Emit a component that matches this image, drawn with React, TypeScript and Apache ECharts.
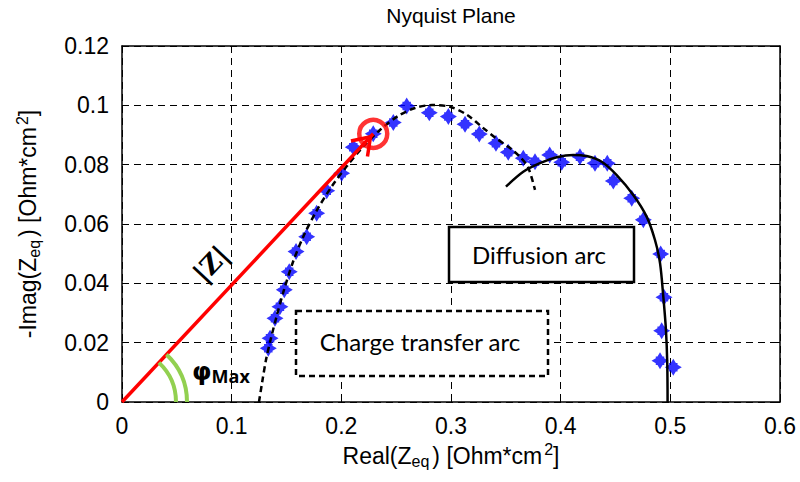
import React, { useEffect, useRef } from 'react';
import * as echarts from 'echarts';

// Measured impedance points (Real, -Imag) in Ohm*cm^2
const measuredRe = [0.1334, 0.135, 0.1395, 0.144, 0.148, 0.1525, 0.1587, 0.1684, 0.1775, 0.1867, 0.2003, 0.2109, 0.2291, 0.2474, 0.2596, 0.2802, 0.2976, 0.3128, 0.3258, 0.341, 0.3522, 0.3659, 0.3766, 0.39, 0.401, 0.4176, 0.4313, 0.4425, 0.448, 0.4648, 0.4754, 0.4912, 0.4942, 0.4921, 0.4906, 0.5027];
const measuredIm = [0.0181, 0.0215, 0.0282, 0.0321, 0.0378, 0.0439, 0.0507, 0.0557, 0.0636, 0.0712, 0.0771, 0.0859, 0.0904, 0.0942, 0.0998, 0.0975, 0.0962, 0.0936, 0.0903, 0.0872, 0.0842, 0.0822, 0.081, 0.0833, 0.0808, 0.0827, 0.0805, 0.0805, 0.0745, 0.0687, 0.0614, 0.0499, 0.0353, 0.024, 0.0139, 0.0117];

// Charge transfer arc (dashed fit)
const chargeArcRe = [0.1249, 0.1277, 0.1313, 0.1359, 0.1413, 0.1477, 0.1559, 0.166, 0.1778, 0.1915, 0.2052, 0.2188, 0.2352, 0.2517, 0.2672, 0.2827, 0.2991, 0.3146, 0.3292, 0.3419, 0.3538, 0.3629, 0.3702, 0.3766];
const chargeArcIm = [0, 0.0064, 0.0142, 0.0216, 0.0293, 0.0378, 0.0472, 0.0563, 0.0647, 0.0728, 0.0796, 0.0856, 0.0917, 0.0964, 0.0991, 0.1001, 0.0995, 0.0968, 0.0924, 0.0887, 0.0856, 0.0826, 0.0792, 0.0715];

// Diffusion arc (solid fit)
const diffArcRe = [0.3501, 0.3659, 0.3811, 0.3964, 0.4115, 0.4237, 0.4374, 0.4511, 0.4662, 0.4784, 0.486, 0.4906, 0.4936, 0.496, 0.4972, 0.4975];
const diffArcIm = [0.0726, 0.0776, 0.0805, 0.0825, 0.0833, 0.0829, 0.081, 0.0765, 0.0698, 0.0625, 0.0546, 0.0468, 0.0355, 0.0243, 0.013, 0];

// |Z| vector at the phase maximum
const zVectorRe = [0, 0.2291];
const zVectorIm = [0, 0.0904];

const xMin = 0, xMax = 0.6, xStep = 0.1;
const yMin = 0, yMax = 0.12, yStep = 0.02;

const zip = (a: number[], b: number[]) => a.map((v, i) => [v, b[i]]);

const FONT = '"Liberation Sans", Arial, sans-serif';
const BOX_FONT = 'Lato, "Open Sans", sans-serif';
const MARKER = 'path://M5,0 L6.5,2.5 L7.5,2.5 L7.5,3.5 L10,5 L7.5,6.5 L7.5,7.5 L6.5,7.5 L5,10 L3.5,7.5 L2.5,7.5 L2.5,6.5 L0,5 L2.5,3.5 L2.5,2.5 L3.5,2.5 Z';

export default function App() {
  const ref = useRef<HTMLDivElement>(null);
  useEffect(() => {
    const chart = echarts.init(ref.current!, null, { renderer: 'svg' });
    const fmt = (v: number) => String(+v.toFixed(2));
    const richName = {
      sub: { fontSize: 16, fontFamily: FONT, color: '#000', padding: [12, 3, 0, 0] },
      sup: { fontSize: 16, fontFamily: FONT, color: '#000', padding: [0, 0, 12, 2] },
    };
    const axisLineStyle = { color: '#000', width: 1.5 };
    chart.setOption({
      animation: false,
      backgroundColor: '#fff',
      title: {
        text: 'Nyquist Plane', left: 451, top: 5, textAlign: 'center', padding: 0,
        textStyle: { fontFamily: FONT, fontSize: 21, fontWeight: 'normal', color: '#000' },
      },
      grid: { left: 122, right: 20, top: 46, bottom: 80 },
      xAxis: [
        {
          type: 'value', min: xMin, max: xMax, interval: xStep, position: 'bottom',
          axisLine: { show: true, onZero: false, lineStyle: axisLineStyle },
          axisTick: { show: true, inside: true, length: 5, lineStyle: { color: '#000' } },
          axisLabel: { fontFamily: FONT, fontSize: 23, color: '#000', margin: 12, formatter: fmt },
          splitLine: { show: true, lineStyle: { color: '#000', type: [7, 5], width: 1 } },
          name: 'Real(Z{sub|eq}) [Ohm*cm{sup|2}]', nameLocation: 'middle', nameGap: 38,
          nameTextStyle: { fontFamily: FONT, fontSize: 23, color: '#000', rich: richName },
        },
        {
          type: 'value', min: xMin, max: xMax, interval: xStep, position: 'top',
          axisLine: { show: true, onZero: false, lineStyle: axisLineStyle },
          axisTick: { show: true, inside: true, length: 5, lineStyle: { color: '#000' } },
          axisLabel: { show: false }, splitLine: { show: false },
        },
      ],
      yAxis: [
        {
          type: 'value', min: yMin, max: yMax, interval: yStep, position: 'left',
          axisLine: { show: true, onZero: false, lineStyle: axisLineStyle },
          axisTick: { show: true, inside: true, length: 5, lineStyle: { color: '#000' } },
          axisLabel: { fontFamily: FONT, fontSize: 23, color: '#000', margin: 13, formatter: fmt },
          splitLine: { show: true, lineStyle: { color: '#000', type: [7, 5], width: 1 } },
          name: '-Imag(Z{sub|eq}) [Ohm*cm{sup|2}]', nameLocation: 'middle', nameGap: 80,
          nameTextStyle: { fontFamily: FONT, fontSize: 23, color: '#000', rich: richName },
        },
        {
          type: 'value', min: yMin, max: yMax, interval: yStep, position: 'right',
          axisLine: { show: true, onZero: false, lineStyle: axisLineStyle },
          axisTick: { show: true, inside: true, length: 5, lineStyle: { color: '#000' } },
          axisLabel: { show: false }, splitLine: { show: false },
        },
      ],
      series: [
        {
          type: 'scatter', name: 'measured', data: zip(measuredRe, measuredIm),
          symbol: MARKER, symbolSize: 17, itemStyle: { color: '#0000ff' }, z: 2,
        },
        {
          type: 'line', name: 'charge', data: zip(chargeArcRe, chargeArcIm), smooth: 0.3,
          symbol: 'none', lineStyle: { color: '#000', width: 2.5, type: [6, 4] }, z: 3,
        },
        {
          type: 'line', name: 'diffusion', data: zip(diffArcRe, diffArcIm), smooth: 0.3,
          symbol: 'none', lineStyle: { color: '#000', width: 2.5 }, z: 3,
        },
        {
          type: 'line', name: 'zvec', data: zip(zVectorRe, zVectorIm),
          symbol: 'none', lineStyle: { color: '#ff0000', width: 3.5 }, z: 4,
        },
        {
          type: 'scatter', name: 'circle', data: [[zVectorRe[1], zVectorIm[1]]],
          symbol: 'circle', symbolSize: 28,
          itemStyle: { color: 'rgba(0,0,0,0)', borderColor: '#ff0000', borderWidth: 4.5 }, z: 5,
        },
      ],
    });

    const o = chart.convertToPixel({ xAxisIndex: 0, yAxisIndex: 0 }, [zVectorRe[0], zVectorIm[0]]) as number[];
    const p = chart.convertToPixel({ xAxisIndex: 0, yAxisIndex: 0 }, [zVectorRe[1], zVectorIm[1]]) as number[];
    const ang = Math.atan2(p[1] - o[1], p[0] - o[0]); // negative (upwards)
    const tip = [p[0] - 4 * Math.cos(ang), p[1] - 4 * Math.sin(ang)];
    const back = ang + Math.PI;
    const barb = 20, spread = 0.6;
    const b1 = [tip[0] + barb * Math.cos(back - spread), tip[1] + barb * Math.sin(back - spread)];
    const b2 = [tip[0] + barb * Math.cos(back + spread), tip[1] + barb * Math.sin(back + spread)];

    chart.setOption({
      graphic: [
        {
          type: 'polyline', z: 10,
          shape: { points: [b1, tip, b2] },
          style: { stroke: '#ff0000', lineWidth: 3.5, fill: 'none' },
        },
        {
          type: 'arc', z: 10,
          shape: { cx: o[0], cy: o[1], r: 54, startAngle: ang, endAngle: 0, clockwise: true },
          style: { stroke: '#92d050', lineWidth: 4, fill: 'none' },
        },
        {
          type: 'arc', z: 10,
          shape: { cx: o[0], cy: o[1], r: 65, startAngle: ang, endAngle: 0, clockwise: true },
          style: { stroke: '#92d050', lineWidth: 4, fill: 'none' },
        },
        {
          type: 'text', x: 192, y: 358, z: 10,
          style: {
            text: '{phi|φ}{max|Max}',
            rich: {
              phi: { fontSize: 25, fontWeight: 'bold', fontFamily: '"DejaVu Sans", sans-serif', fill: '#000' },
              max: { fontSize: 18, fontWeight: 'bold', fontFamily: '"Open Sans", sans-serif', fill: '#000', padding: [9, 0, 0, 0] },
            },
          },
        },
        {
          type: 'text', x: 211, y: 264, rotation: -ang, z: 10,
          style: {
            text: '|Z|', fontSize: 26, fontWeight: 'bold', fontFamily: '"DejaVu Serif", serif', fill: '#000',
            align: 'center', verticalAlign: 'middle',
          },
        },
        {
          type: 'rect', z: 10,
          shape: { x: 296, y: 311, width: 252, height: 65 },
          style: { fill: '#fff', stroke: '#000', lineWidth: 2.5, lineDash: [6, 4] },
        },
        {
          type: 'text', x: 420, y: 341, z: 11,
          style: { text: 'Charge transfer arc', fontSize: 24, fontFamily: BOX_FONT, fill: '#000', align: 'center', verticalAlign: 'middle' },
        },
        {
          type: 'rect', z: 10,
          shape: { x: 449, y: 227, width: 185, height: 55 },
          style: { fill: '#fff', stroke: '#000', lineWidth: 2.5 },
        },
        {
          type: 'text', x: 539, y: 254, z: 11,
          style: { text: 'Diffusion arc', fontSize: 24, fontFamily: BOX_FONT, fill: '#000', align: 'center', verticalAlign: 'middle' },
        },
      ],
    });

    return () => chart.dispose();
  }, []);
  return <div ref={ref} style={{ position: 'absolute', left: 0, top: 0, width: 800, height: 482 }} />;
}
